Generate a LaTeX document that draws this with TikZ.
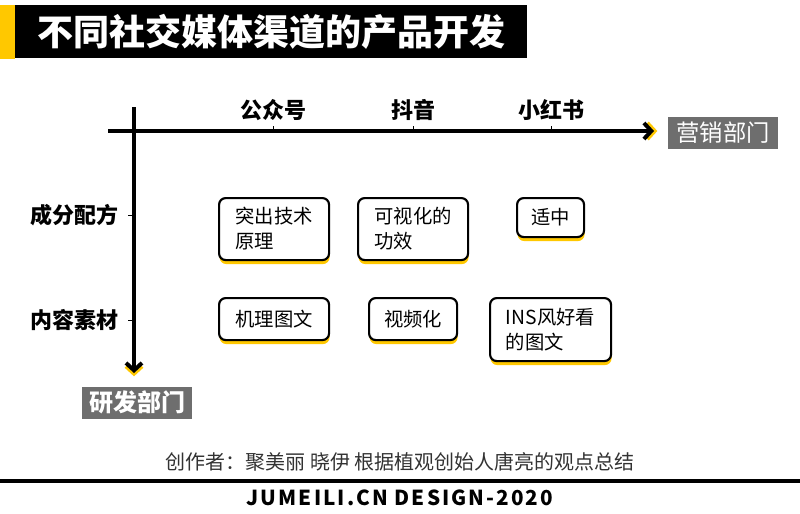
\documentclass[tikz,border=0pt]{standalone}
\usepackage{fontspec}
\setmainfont{Noto Sans CJK SC}
\newfontfamily\brandfont[LetterSpace=10]{Noto Sans CJK SC}
\usepackage{tikz}
\usetikzlibrary{positioning, arrows.meta, shadows}
\definecolor{jmyellow}{RGB}{255, 200, 0}
\definecolor{jmgray}{RGB}{110, 110, 110}
\definecolor{jmtext}{RGB}{50, 50, 50}

\begin{document}
\begin{tikzpicture}[x=0.75pt, y=-0.75pt, font=\fontsize{14.5}{18.75}\selectfont,
    card/.style={draw, line width=1.6pt, rounded corners=5pt, fill=white, align=left,
      anchor=north west, inner sep=0pt,
      drop shadow={shadow xshift=0.4pt, shadow yshift=-3pt, fill=jmyellow, opacity=1}},
    axislabel/.style={font=\fontsize{16.5}{20}\selectfont\bfseries},
    deptbox/.style={fill=jmgray, text=white, minimum width=82.5pt, minimum height=24pt, inner sep=0pt},
    axisline/.style={line width=3pt, -{Straight Barb[length=5.5pt, width=12pt]}}]

  \useasboundingbox (0,0) rectangle (800,514);

  % Title bar
  \node[fill=black, text=white, font=\fontsize{27}{30}\selectfont\bfseries,
        minimum width=384pt, minimum height=39.75pt, anchor=north west, inner sep=0pt]
        (title) at (15,5) {不同社交媒体渠道的产品开发};
  \fill[jmyellow] (title.north west) rectangle ([xshift=-11.25pt]title.south west);

  % Axes (yellow copy first, shifted along the axis)
  \coordinate (xstart) at (108,131);
  \coordinate (xend)   at (654,131);
  \coordinate (ystart) at (134,107);
  \coordinate (yend)   at (134,373);
  \draw[axisline, jmyellow] ([xshift=2.5pt]xstart) -- ([xshift=2.5pt]xend);
  \draw[axisline, jmyellow] ([yshift=-2.5pt]ystart) -- ([yshift=-2.5pt]yend);
  \draw[axisline] (xstart) -- (xend);
  \draw[axisline] (ystart) -- (yend);

  % Channels (X)
  \foreach \x/\n/\t in {273/gzh/公众号, 413/dy/抖音, 551/xhs/小红书}{
    \node[axislabel] (\n) at (\x,110) {\t};
    \draw[line width=0.6pt] (\x,126) -- (\x,131);
  }
  % Topics (Y)
  \foreach \y/\n/\t in {215/formula/成分配方, 320/content/内容素材}{
    \node[axislabel, anchor=east] (\n) at (123,\y) {\t};
    \draw[line width=0.6pt] (128,\y) -- (134,\y);
  }

  % Departments
  \node[deptbox, font=\fontsize{17.5}{20}\selectfont] (marketing) at (723,132.5) {营销部门};
  \node[deptbox, font=\fontsize{18}{20}\selectfont\bfseries] (rnd) at (137,402.5) {研发部门};

  % Row 1
  \node[card, minimum width=82.5pt, minimum height=46.5pt] (tech) at (218,197) {突出技术\\原理};
  \node[card, minimum width=82.5pt, minimum height=46.5pt] (visual) at (357,197) {可视化的\\功效};
  \node[card, minimum width=50.25pt, minimum height=29.25pt] (medium) at (516,197) {适中};
  % Row 2
  \node[card, minimum width=82.5pt, minimum height=31.5pt] (mech) at (218,297) {机理图文};
  \node[card, minimum width=66pt, minimum height=31.5pt] (video) at (368,297) {视频化};
  \node[card, minimum width=90.75pt, minimum height=47.25pt] (ins) at (489,297) {INS风好看\\的图文};

  % Footer
  \node[font=\fontsize{15}{18}\selectfont, text=jmtext] (credit) at (400,462)
        {创作者：聚美丽 晓伊 根据植观创始人唐亮的观点总结};
  \draw[line width=3.5pt] (0,481) -- (800,481);
  \node[font=\brandfont\fontsize{15.5}{18}\selectfont\bfseries] (brand) at (400,498)
        {JUMEILI.CN DESIGN-2020};
\end{tikzpicture}
\end{document}
